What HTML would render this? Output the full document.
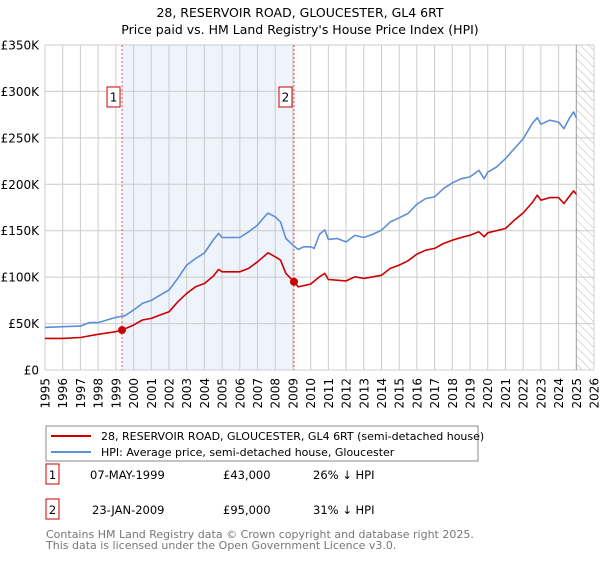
<!DOCTYPE html>
<html><head><meta charset="utf-8"><style>
body{margin:0;background:#fff;font-family:"DejaVu Sans","Liberation Sans",sans-serif;}
svg text{font-family:"DejaVu Sans","Liberation Sans",sans-serif;}
</style></head><body>
<svg id="chart" width="600" height="560" viewBox="0 0 600 560" xmlns="http://www.w3.org/2000/svg">
<defs><pattern id="hatch" patternUnits="userSpaceOnUse" width="6" height="6" patternTransform="rotate(-45)"><line x1="0" y1="0" x2="0" y2="6" stroke="#bbb" stroke-width="1"/></pattern></defs>
<text x="300" y="17" text-anchor="middle" font-size="12.5">28, RESERVOIR ROAD, GLOUCESTER, GL4 6RT</text>
<text x="300" y="34" text-anchor="middle" font-size="12.5">Price paid vs. HM Land Registry's House Price Index (HPI)</text>
<g id="grid"></g><g id="marks"></g>
</svg>
<script>
const hpiYears=[1995,1996,1997,1997.5,1998,1999,1999.5,2000,2000.5,2001,2001.5,2002,2002.5,2003,2003.5,2004,2004.5,2004.8,2005,2006,2006.5,2007,2007.5,2007.6,2008,2008.3,2008.6,2009,2009.3,2009.6,2010,2010.2,2010.5,2010.8,2011,2011.5,2012,2012.5,2013,2013.5,2014,2014.5,2015,2015.5,2016,2016.5,2017,2017.5,2018,2018.5,2019,2019.5,2019.8,2020,2020.5,2021,2021.5,2022,2022.5,2022.8,2023,2023.5,2024,2024.3,2024.6,2024.85,2025];
const hpiValues=[45.9,46.6,47.3,51,51,56.6,58.4,64.5,71.7,75,80.7,86,98.6,113,120,126,140,147,142.7,142.7,148.8,156,167.4,169,165,159.5,141.6,134.5,129.8,132.7,132.7,130.9,146,151,140.6,141.6,138,145,142.7,146,150.6,159.5,163.9,168.5,178.6,184.7,186.4,195.4,201.5,206,208,215,206,213,218.7,227.7,238.4,249,265,271.8,264.6,269,267,260,270.7,277.9,271.8];
const propYears=[1995,1996,1997,1998,1999,1999.35,2000,2000.5,2001,2001.5,2002,2002.5,2003,2003.5,2004,2004.5,2004.8,2005,2006,2006.5,2007,2007.6,2008,2008.3,2008.6,2009.06,2009.3,2010,2010.5,2010.8,2011,2012,2012.5,2013,2014,2014.5,2015,2015.5,2016,2016.5,2017,2017.5,2018,2018.5,2019,2019.5,2019.8,2020,2021,2021.5,2022,2022.5,2022.8,2023,2023.5,2024,2024.3,2024.85,2025];
const propValues=[34,34,35,38.4,41.2,43,48.4,53.8,55.6,59.2,62.7,73.5,82.5,89.6,93.2,101,108.3,105.8,105.8,109.4,116.5,126.2,121.9,118.3,104,95,89.6,92.5,100.4,104,97.5,96,100.4,98.6,102,109.4,113,117.6,124.8,129,130.9,136.2,139.8,142.7,145.2,148.8,143.4,147.7,152.4,161.3,169.2,180,188.2,182.9,185.7,185.7,179.3,192.9,189.3];
const saleYears=[1999.35,2009.06];
const saleValues=[43,95];
const saleLabels=["1","2"];
const yTicks=[0,50,100,150,200,250,300,350];
const yTickLabels=["£0","£50K","£100K","£150K","£200K","£250K","£300K","£350K"];
const xTicks=[];for(let y=1995;y<=2026;y++)xTicks.push(y);

const X0=45,X1=594,Y0=370,Y1=45;
const xs=y=>X0+(y-1995)/(2026-1995)*(X1-X0);
const ys=v=>Y0-v/350*(Y0-Y1);
const NS="http://www.w3.org/2000/svg";
function mk(tag,attrs,parent){const e=document.createElementNS(NS,tag);for(const k in attrs)e.setAttribute(k,attrs[k]);parent.appendChild(e);return e;}
const grid=document.getElementById('grid'),marks=document.getElementById('marks');

let r=mk('rect',{x:xs(saleYears[0]),y:Y1,width:xs(saleYears[1])-xs(saleYears[0]),height:Y0-Y1,fill:'#eef3fc'},grid);

r=mk('rect',{x:xs(2025),y:Y1,width:X1-xs(2025),height:Y0-Y1,fill:'url(#hatch)'},grid);


yTicks.forEach((t,i)=>{
 const l=mk('line',{x1:X0,x2:X1,y1:ys(t),y2:ys(t),stroke:'#ccc','stroke-width':1},grid);
 
 const tx=mk('text',{x:39,y:ys(t)+4.5,'text-anchor':'end','font-size':12},grid);
 
 tx.textContent=yTickLabels[i];
});
xTicks.forEach(t=>{
 const l=mk('line',{x1:xs(t),x2:xs(t),y1:Y1,y2:Y0,stroke:t===2025?'#999':'#ccc','stroke-width':1},grid);
 
 const tx=mk('text',{x:0,y:0,'text-anchor':'end','font-size':12,transform:`translate(${xs(t)+4.5},378) rotate(-90)`},grid);
 
 tx.textContent=t;
});
let ax=mk('line',{x1:X0,x2:X0,y1:Y1,y2:Y0,stroke:'#ccc'},grid);


saleYears.forEach((s,i)=>{
 const l=mk('line',{x1:xs(s),x2:xs(s),y1:Y1,y2:Y0,stroke:'#e05050','stroke-width':1,'stroke-dasharray':'2,2'},marks);
 
 const bx=mk('rect',{x:xs(s)-15,y:87,width:13,height:20,fill:'#fff',stroke:'#c00','stroke-width':1},marks);
 
 const tx=mk('text',{x:xs(s)-8.5,y:101.5,'text-anchor':'middle','font-size':12},marks);
 
 tx.textContent=saleLabels[i];
});
function path(ya,va,color,name){
 const d=ya.map((y,i)=>(i?'L':'M')+xs(y).toFixed(1)+','+ys(va[i]).toFixed(1)).join('');
 const p=mk('path',{d:d,fill:'none',stroke:color,'stroke-width':1.6,'stroke-linejoin':'round'},marks);
 
}
path(hpiYears,hpiValues,'#5b8fd6','hpi-line');
path(propYears,propValues,'#cc0000','property-line');
saleYears.forEach((s,i)=>{
 const c=mk('circle',{cx:xs(s),cy:ys(saleValues[i]),r:4,fill:'#cc0000'},marks);
 
});

// legend & table
const svg=document.getElementById('chart');
let g=mk('rect',{x:46,y:426,width:432,height:35,fill:'#fff',stroke:'#888'},svg);

[[436,'#cc0000','28, RESERVOIR ROAD, GLOUCESTER, GL4 6RT (semi-detached house)','legend-entry-property'],[452,'#5b8fd6','HPI: Average price, semi-detached house, Gloucester','legend-entry-hpi']].forEach(e=>{
 const l=mk('line',{x1:51,x2:91,y1:e[0],y2:e[0],stroke:e[1],'stroke-width':2},svg);
 
 const t=mk('text',{x:101,y:e[0]+4,'font-size':11},svg);
 
 t.textContent=e[2];
});
[[483,'1','07-MAY-1999','£43,000','26% ↓ HPI',90],[518,'2','23-JAN-2009','£95,000','31% ↓ HPI',92]].forEach(row=>{
 const b=mk('rect',{x:46,y:row[0]-19,width:13,height:20,fill:'#fff',stroke:'#c00'},svg);
 
 const cols=[[52.5,row[1],'middle'],[row[5],row[2],'start'],[223,row[3],'start'],[313,row[4],'start']];
 cols.forEach(c=>{const t=mk('text',{x:c[0],y:row[0]-4,'font-size':11.5,'text-anchor':c[2]},svg);
  t.textContent=c[1];});
});
[[538,'Contains HM Land Registry data © Crown copyright and database right 2025.'],[549,'This data is licensed under the Open Government Licence v3.0.']].forEach(f=>{
 const t=mk('text',{x:46,y:f[0],'font-size':11,fill:'#777'},svg);
 t.textContent=f[1];
});
</script>
</body></html>
